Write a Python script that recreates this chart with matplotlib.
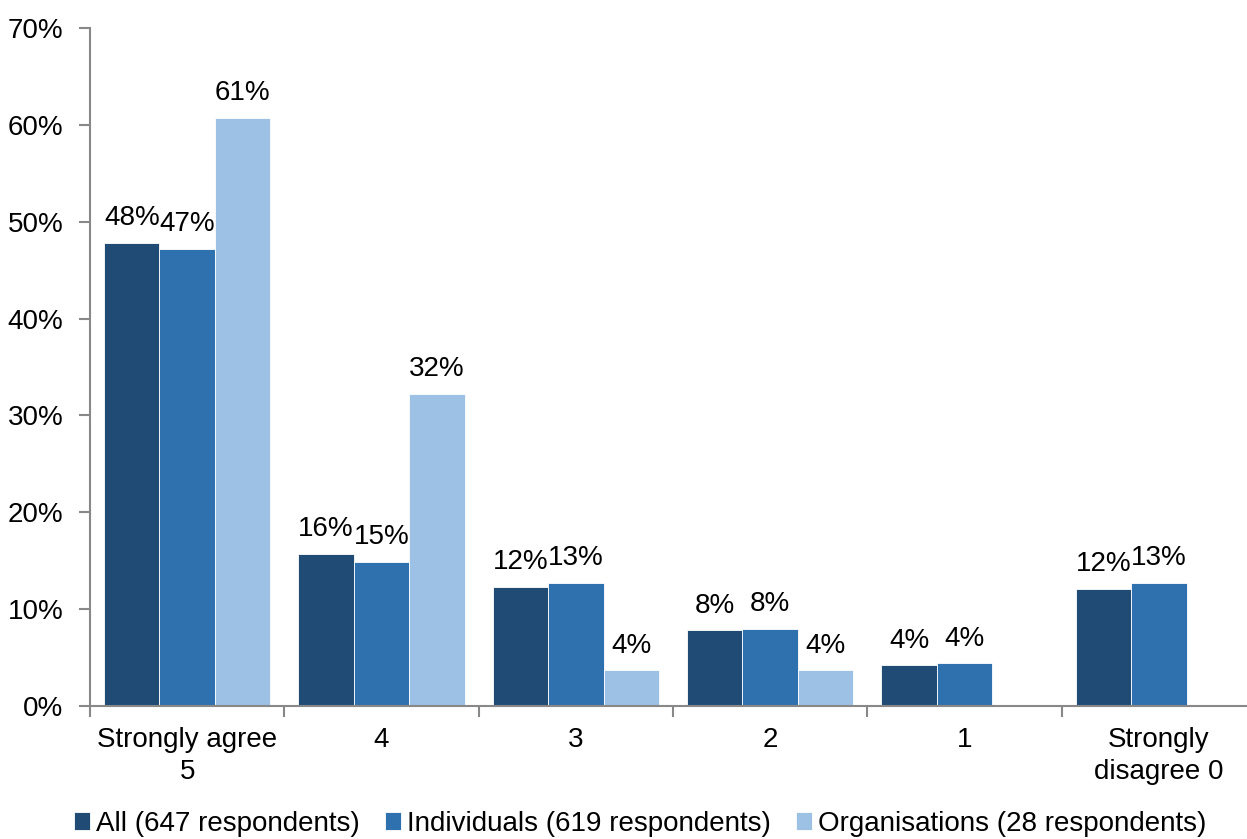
import matplotlib.pyplot as plt
import numpy as np

plt.rcParams['font.family'] = ['Liberation Sans', 'DejaVu Sans']

# dados (%)
categorias = ['Strongly agree\n5', '4', '3', '2', '1', 'Strongly\ndisagree 0']
series = ['All (647 respondents)', 'Individuals (619 respondents)', 'Organisations (28 respondents)']
all_vals = [47.8, 15.7, 12.3, 7.8, 4.2, 12.1]
ind_vals = [47.2, 14.9, 12.7, 8.0, 4.4, 12.7]
org_vals = [60.7, 32.2, 3.7, 3.7, 0, 0]
rotulos_all = ['48%', '16%', '12%', '8%', '4%', '12%']
rotulos_ind = ['47%', '15%', '13%', '8%', '4%', '13%']
rotulos_org = ['61%', '32%', '4%', '4%', '', '']

cores = ['#204B75', '#2F70AF', '#9CC1E4']
cinza = '#888888'
fs = 20

fig = plt.figure(figsize=(12.47, 8.39), dpi=100)
ax = fig.add_axes([90 / 1247, 1 - 706 / 839, 1166 / 1247, 678 / 839])

x = np.arange(len(categorias))
w = 0.285
for i, (vals, rots) in enumerate([(all_vals, rotulos_all), (ind_vals, rotulos_ind), (org_vals, rotulos_org)]):
    pos = x + (i - 1) * w
    barras = ax.bar(pos, vals, w, color=cores[i], edgecolor='white', linewidth=0.6, label=series[i])
    for b, r in zip(barras, rots):
        if r:
            ax.text(b.get_x() + b.get_width() / 2, b.get_height() + 1.2, r,
                    ha='center', va='bottom', fontsize=fs)

ax.set_xlim(-0.5, len(categorias) - 0.5)
ax.set_ylim(0, 70)
ax.set_yticks(range(0, 71, 10))
ax.set_yticklabels([f'{v}%' for v in range(0, 71, 10)], fontsize=fs)
ax.set_xticks(np.arange(len(categorias) + 1) - 0.5, minor=False)
ax.set_xticklabels([])
ax.set_xticks(x, minor=True)
ax.set_xticklabels(categorias, minor=True, fontsize=fs, linespacing=1.3)
ax.tick_params(axis='x', which='minor', length=0, pad=15)
ax.tick_params(axis='x', which='major', length=8, color=cinza, width=1.5)
ax.tick_params(axis='y', length=8, color=cinza, width=1.5, pad=11)

for lado in ['top', 'right']:
    ax.spines[lado].set_visible(False)
for lado in ['left', 'bottom']:
    ax.spines[lado].set_color(cinza)
    ax.spines[lado].set_linewidth(1.5)

ax.legend(loc='lower center', bbox_to_anchor=(0.4717, -0.209), ncol=3, frameon=False,
          fontsize=fs, handlelength=0.6, handleheight=0.6, handletextpad=0.2,
          columnspacing=0.9, borderaxespad=0)

plt.savefig('out.png', dpi=100)
